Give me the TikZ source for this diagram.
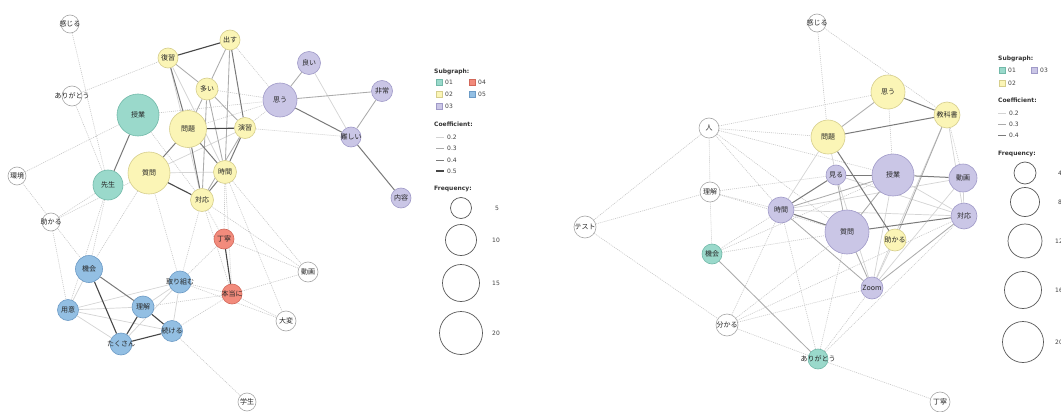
\documentclass[tikz,border=0pt]{standalone}
\usepackage{fontspec}
\setmainfont{DejaVu Sans}
\newfontfamily\jp{Noto Sans CJK JP}
\usetikzlibrary{backgrounds}
\definecolor{f01}{HTML}{9AD9CB}\definecolor{b01}{HTML}{72B9A9}
\definecolor{f02}{HTML}{FBF5B6}\definecolor{b02}{HTML}{D6CE8C}
\definecolor{f03}{HTML}{CAC6E6}\definecolor{b03}{HTML}{A09AC8}
\definecolor{f04}{HTML}{F28B7C}\definecolor{b04}{HTML}{D2685A}
\definecolor{f05}{HTML}{93BFE3}\definecolor{b05}{HTML}{6C9BC6}
\newcommand\ov[1]{\makebox[0pt]{#1}}
\tikzset{
  wd/.style={circle, inner sep=0pt, line width=0.6pt, font=\jp\fontsize{7}{8}\selectfont, text=black!85},
  g00/.style={wd, fill=white, draw=black!35},
  g01/.style={wd, fill=f01, draw=b01},
  g02/.style={wd, fill=f02, draw=b02},
  g03/.style={wd, fill=f03, draw=b03},
  g04/.style={wd, fill=f04, draw=b04},
  g05/.style={wd, fill=f05, draw=b05},
  ea/.style={draw=black!17, line width=0.7pt},
  eb/.style={draw=black!33, line width=0.85pt},
  ec/.style={draw=black!52, line width=1pt},
  ed/.style={draw=black!72, line width=1.1pt},
  ex/.style={draw=black!22, line width=0.6pt, dash pattern=on 1pt off 1pt},
  lg/.style={font=\fontsize{6}{7}\selectfont, text=black!75, inner sep=0pt, anchor=west},
  lgb/.style={font=\bfseries\fontsize{6}{7}\selectfont, text=black!80, inner sep=0pt, anchor=west},
  sq/.style={minimum size=6pt, inner sep=0pt, line width=0.5pt},
  fc/.style={circle, draw=black!65, line width=0.7pt, fill=white, inner sep=0pt},
}
\begin{document}
\begin{tikzpicture}[x=1pt,y=-1pt]
\useasboundingbox (0,0) rectangle (1061,412);

% ---------------- left graph nodes
\node[g00, minimum size=18pt] (Lkanjiru) at (70,24) {\ov{感じる}};
\node[g00, minimum size=20pt] (Larigatou) at (72,96) {\ov{ありがとう}};
\node[g00, minimum size=18pt] (Lkankyo) at (17,176) {\ov{環境}};
\node[g00, minimum size=18pt] (Ltasukaru) at (51,222) {\ov{助かる}};
\node[g01, minimum size=42pt] (Ljugyo) at (138,115) {\ov{授業}};
\node[g01, minimum size=30pt] (Lsensei) at (108,185) {\ov{先生}};
\node[g02, minimum size=42pt] (Lshitsumon) at (149,173) {\ov{質問}};
\node[g02, minimum size=37pt] (Lmondai) at (188,129) {\ov{問題}};
\node[g02, minimum size=20pt] (Lfukushu) at (168,58) {\ov{復習}};
\node[g02, minimum size=20pt] (Ldasu) at (230,40) {\ov{出す}};
\node[g02, minimum size=22pt] (Looi) at (207,89) {\ov{多い}};
\node[g02, minimum size=21pt] (Lenshu) at (245,128) {\ov{演習}};
\node[g02, minimum size=23pt] (Ljikan) at (225,172) {\ov{時間}};
\node[g02, minimum size=23pt] (Ltaiou) at (202,200) {\ov{対応}};
\node[g03, minimum size=23pt] (Lyoi) at (309,63) {\ov{良い}};
\node[g03, minimum size=34pt] (Lomou) at (280,100) {\ov{思う}};
\node[g03, minimum size=21pt] (Lhijou) at (382,91) {\ov{非常}};
\node[g03, minimum size=20pt] (Lmuzukashii) at (351,137) {\ov{難しい}};
\node[g03, minimum size=20pt] (Lnaiyou) at (401,198) {\ov{内容}};
\node[g04, minimum size=20pt] (Lteinei) at (224,239) {\ov{丁寧}};
\node[g04, minimum size=20pt] (Lhontou) at (232,294) {\ov{本当に}};
\node[g00, minimum size=20pt] (Ldouga) at (308,272) {\ov{動画}};
\node[g00, minimum size=20pt] (Ltaihen) at (286,321) {\ov{大変}};
\node[g00, minimum size=18pt] (Lgakusei) at (247,402) {\ov{学生}};
\node[g05, minimum size=27pt] (Lkikai) at (89,269) {\ov{機会}};
\node[g05, minimum size=21pt] (Lyoui) at (68,310) {\ov{用意}};
\node[g05, minimum size=22pt] (Lrikai) at (143,307) {\ov{理解}};
\node[g05, minimum size=22pt] (Ltorikumu) at (180,282) {\ov{取り組む}};
\node[g05, minimum size=21pt] (Ltsuzukeru) at (172,331) {\ov{続ける}};
\node[g05, minimum size=22pt] (Ltakusan) at (121,344) {\ov{たくさん}};

% ---------------- right graph nodes
\node[g00, minimum size=18pt] (Rkanjiru) at (817,23) {\ov{感じる}};
\node[g00, minimum size=20pt] (Rhito) at (709,128) {\ov{人}};
\node[g00, minimum size=20pt] (Rrikai) at (710,192) {\ov{理解}};
\node[g00, minimum size=22pt] (Rtest) at (585,227) {\ov{テスト}};
\node[g01, minimum size=20pt] (Rkikai) at (712,254) {\ov{機会}};
\node[g00, minimum size=22pt] (Rwakaru) at (727,325) {\ov{分かる}};
\node[g01, minimum size=20pt] (Rarigatou) at (818,359) {\ov{ありがとう}};
\node[g00, minimum size=20pt] (Rteinei) at (940,402) {\ov{丁寧}};
\node[g02, minimum size=34pt] (Romou) at (888,92) {\ov{思う}};
\node[g02, minimum size=26pt] (Rkyoukasho) at (947,115) {\ov{教科書}};
\node[g02, minimum size=34pt] (Rmondai) at (828,137) {\ov{問題}};
\node[g03, minimum size=20pt] (Rmiru) at (836,175) {\ov{見る}};
\node[g03, minimum size=42pt] (Rjugyo) at (893,175) {\ov{授業}};
\node[g03, minimum size=28pt] (Rdouga) at (963,178) {\ov{動画}};
\node[g03, minimum size=26pt] (Rjikan) at (781,210) {\ov{時間}};
\node[g03, minimum size=44pt] (Rshitsumon) at (847,232) {\ov{質問}};
\node[g02, minimum size=22pt] (Rtasukaru) at (895,240) {\ov{助かる}};
\node[g03, minimum size=26pt] (Rtaiou) at (964,216) {\ov{対応}};
\node[g03, minimum size=22pt] (Rzoom) at (872,288) {\ov{Zoom}};

\begin{pgfonlayer}{background}
\fill[white] (0,0) rectangle (1061,412);
% left edges
\foreach \a/\b in {Lkanjiru/Lsensei, Larigatou/Lfukushu, Larigatou/Lsensei, Lkankyo/Ljugyo, Lkankyo/Lkikai,
  Ltasukaru/Lyoui, Ltasukaru/Lsensei, Ltasukaru/Lshitsumon, Ljugyo/Lomou, Looi/Lomou, Lmondai/Lomou,
  Lenshu/Lmuzukashii, Lenshu/Lomou, Ltaiou/Lteinei, Ljikan/Lteinei, Ltaiou/Lhontou, Ljikan/Lhontou,
  Lteinei/Ldouga, Lhontou/Ldouga, Lhontou/Ltaihen, Ltorikumu/Ltaihen, Ltsuzukeru/Lgakusei,
  Lshitsumon/Ltorikumu, Lsensei/Lkikai, Lshitsumon/Lkikai, Ltorikumu/Lteinei, Ltorikumu/Lhontou,
  Ltaiou/Ldouga, Ljikan/Ldouga, Ltaiou/Ltorikumu, Ldasu/Lomou, Lrikai/Lhontou, Ltsuzukeru/Lhontou,
  Ljugyo/Ltaiou, Lsensei/Lyoui, Ljikan/Ltaihen}
  \draw[ex] (\a) -- (\b);
\foreach \a/\b in {Lyoi/Lmuzukashii, Lkikai/Lyoui, Lyoui/Lrikai, Lyoui/Ltakusan, Lyoui/Ltsuzukeru,
  Lyoui/Ltorikumu, Ltorikumu/Lrikai, Ltorikumu/Ltsuzukeru, Ltorikumu/Ltakusan, Lfukushu/Ltaiou,
  Lshitsumon/Ljikan, Lshitsumon/Lenshu, Lfukushu/Ljikan}
  \draw[ea] (\a) -- (\b);
\foreach \a/\b in {Lmondai/Looi, Lfukushu/Looi, Looi/Ldasu, Looi/Lenshu, Ldasu/Ljikan, Lenshu/Ltaiou,
  Looi/Ljikan, Looi/Ltaiou, Lomou/Lyoi, Lhijou/Lmuzukashii, Lomou/Lhijou}
  \draw[eb] (\a) -- (\b);
\foreach \a/\b in {Ljugyo/Lsensei, Lomou/Lmuzukashii, Lmuzukashii/Lnaiyou, Lkikai/Lrikai, Lmondai/Lshitsumon,
  Lmondai/Ljikan, Lmondai/Lfukushu, Lmondai/Ltaiou, Ldasu/Lenshu, Lenshu/Ljikan, Ljikan/Ltaiou}
  \draw[ec] (\a) -- (\b);
\foreach \a/\b in {Lfukushu/Ldasu, Lteinei/Lhontou, Lkikai/Ltakusan, Lrikai/Ltakusan, Lrikai/Ltsuzukeru,
  Ltakusan/Ltsuzukeru, Lshitsumon/Ltaiou, Lmondai/Lenshu}
  \draw[ed] (\a) -- (\b);
% right edges
\foreach \a/\b in {Rkanjiru/Rmondai, Rkanjiru/Rkyoukasho, Rhito/Rrikai, Rhito/Rmondai, Rhito/Romou,
  Rhito/Rjikan, Rhito/Rjugyo, Rhito/Rshitsumon, Rrikai/Rkikai, Rrikai/Rjikan, Rrikai/Rshitsumon,
  Rtest/Rhito, Rtest/Rwakaru, Rtest/Rrikai, Rwakaru/Rarigatou, Rwakaru/Rjikan, Rwakaru/Rshitsumon,
  Rwakaru/Rzoom, Rwakaru/Rtaiou, Rarigatou/Rteinei, Rarigatou/Rzoom, Rarigatou/Rshitsumon,
  Rkikai/Rjikan, Rkikai/Rshitsumon, Rkikai/Rjugyo, Rarigatou/Rjikan, Rrikai/Rmiru, Rarigatou/Rtaiou,
  Romou/Rjugyo, Rkyoukasho/Rdouga}
  \draw[ex] (\a) -- (\b);
\foreach \a/\b in {Rjugyo/Rtaiou, Rdouga/Rtaiou, Rdouga/Rzoom, Rtasukaru/Rzoom, Rjugyo/Rzoom,
  Rjikan/Rtaiou, Rjikan/Rdouga, Rmiru/Rzoom, Rmiru/Rtaiou, Rkyoukasho/Rtaiou, Rmondai/Rmiru,
  Rmondai/Rjikan, Rkyoukasho/Rzoom}
  \draw[ea] (\a) -- (\b);
\foreach \a/\b in {Romou/Rmondai, Rmiru/Rshitsumon, Rjikan/Rjugyo, Rjikan/Rzoom, Rshitsumon/Rzoom,
  Rshitsumon/Rjugyo, Rkyoukasho/Rtasukaru, Rtaiou/Rzoom, Rkikai/Rarigatou}
  \draw[eb] (\a) -- (\b);
\foreach \a/\b in {Romou/Rkyoukasho, Rmondai/Rkyoukasho, Rmondai/Rtasukaru, Rmiru/Rjugyo, Rjugyo/Rdouga,
  Rmiru/Rjikan, Rjikan/Rshitsumon, Rshitsumon/Rtaiou}
  \draw[ec] (\a) -- (\b);
\end{pgfonlayer}

% ---------------- left legend
\node[lgb] (l1sub) at (434,72) {Subgraph:};
\node[sq, fill=f01, draw=b01] (l1s01) at (439,82) {};
\node[lg] (l1t01) at (445,82) {01};
\node[sq, fill=f04, draw=b04] (l1s04) at (472,82) {};
\node[lg] (l1t04) at (478,82) {04};
\node[sq, fill=f02, draw=b02] (l1s02) at (439,94) {};
\node[lg] (l1t02) at (445,94) {02};
\node[sq, fill=f05, draw=b05] (l1s05) at (472,94) {};
\node[lg] (l1t05) at (478,94) {05};
\node[sq, fill=f03, draw=b03] (l1s03) at (439,106) {};
\node[lg] (l1t03) at (445,106) {03};
\node[lgb] (l1coef) at (434,124) {Coefficient:};
\coordinate (l1a0) at (436,137); \coordinate (l1a1) at (444,137);
\coordinate (l1b0) at (436,148); \coordinate (l1b1) at (444,148);
\coordinate (l1c0) at (436,160); \coordinate (l1c1) at (444,160);
\coordinate (l1d0) at (436,171); \coordinate (l1d1) at (444,171);
\draw[ea] (l1a0) -- (l1a1); \draw[eb] (l1b0) -- (l1b1);
\draw[ec] (l1c0) -- (l1c1); \draw[ed] (l1d0) -- (l1d1);
\node[lg] (l1ta) at (447,137) {0.2};
\node[lg] (l1tb) at (447,148) {0.3};
\node[lg] (l1tc) at (447,160) {0.4};
\node[lg] (l1td) at (447,171) {0.5};
\node[lgb] (l1freq) at (434,189) {Frequency:};
\node[fc, minimum size=21pt] (l1c5) at (461,208) {};
\node[fc, minimum size=31pt] (l1c10) at (461,240) {};
\node[fc, minimum size=37pt] (l1c15) at (461,283) {};
\node[fc, minimum size=43pt] (l1c20) at (461,333) {};
\node[lg] (l1f5) at (495,208) {5};
\node[lg] (l1f10) at (492,240) {10};
\node[lg] (l1f15) at (492,283) {15};
\node[lg] (l1f20) at (492,333) {20};

% ---------------- right legend
\node[lgb] (l2sub) at (998,59) {Subgraph:};
\node[sq, fill=f01, draw=b01] (l2s01) at (1002,70) {};
\node[lg] (l2t01) at (1008,70) {01};
\node[sq, fill=f03, draw=b03] (l2s03) at (1034,70) {};
\node[lg] (l2t03) at (1040,70) {03};
\node[sq, fill=f02, draw=b02] (l2s02) at (1002,83) {};
\node[lg] (l2t02) at (1008,83) {02};
\node[lgb] (l2coef) at (998,100) {Coefficient:};
\coordinate (l2a0) at (998,113); \coordinate (l2a1) at (1006,113);
\coordinate (l2b0) at (998,124); \coordinate (l2b1) at (1006,124);
\coordinate (l2c0) at (998,135); \coordinate (l2c1) at (1006,135);
\draw[ea] (l2a0) -- (l2a1); \draw[eb] (l2b0) -- (l2b1); \draw[ec] (l2c0) -- (l2c1);
\node[lg] (l2ta) at (1009,113) {0.2};
\node[lg] (l2tb) at (1009,124) {0.3};
\node[lg] (l2tc) at (1009,135) {0.4};
\node[lgb] (l2freq) at (998,154) {Frequency:};
\node[fc, minimum size=22pt] (l2c4) at (1025,173) {};
\node[fc, minimum size=29pt] (l2c8) at (1025,202) {};
\node[fc, minimum size=34pt] (l2c12) at (1025,241) {};
\node[fc, minimum size=37pt] (l2c16) at (1023,290) {};
\node[fc, minimum size=41pt] (l2c20) at (1023,342) {};
\node[lg] (l2f4) at (1058,173) {4};
\node[lg] (l2f8) at (1058,202) {8};
\node[lg] (l2f12) at (1055,241) {12};
\node[lg] (l2f16) at (1055,290) {16};
\node[lg] (l2f20) at (1055,342) {20};
\end{tikzpicture}
\end{document}
